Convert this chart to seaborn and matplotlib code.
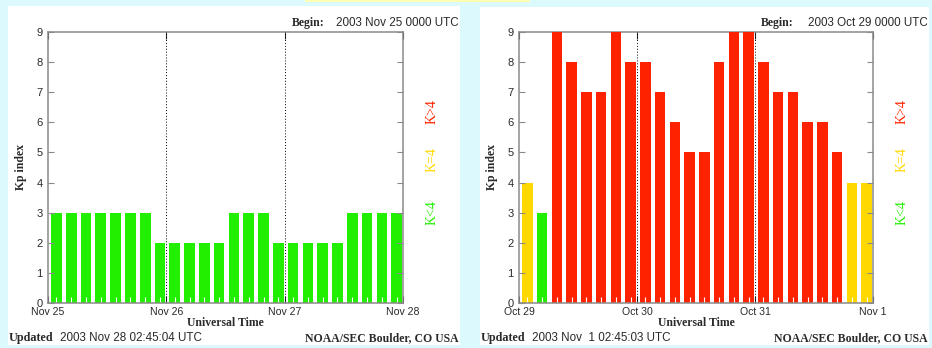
import matplotlib
matplotlib.use("Agg")
import matplotlib.pyplot as plt
import seaborn as sns
import pandas as pd
from matplotlib.patches import Rectangle

sns.set_theme(style="white")
plt.rcParams["font.family"] = ["Liberation Sans", "DejaVu Sans"]

# 3-hourly planetary K index, three days per panel
nov_kp = [3, 3, 3, 3, 3, 3, 3, 2,
          2, 2, 2, 2, 3, 3, 3, 2,
          2, 2, 2, 2, 3, 3, 3, 3]
nov_days = ["Nov 25", "Nov 26", "Nov 27", "Nov 28"]
nov_begin = "2003 Nov 25 0000 UTC"
nov_updated = "2003 Nov 28 02:45:04 UTC"

oct_kp = [4, 3, 9, 8, 7, 7, 9, 8,
          8, 7, 6, 5, 5, 8, 9, 9,
          8, 7, 7, 6, 6, 5, 4, 4]
oct_days = ["Oct 29", "Oct 30", "Oct 31", "Nov 1"]
oct_begin = "2003 Oct 29 0000 UTC"
oct_updated = "2003 Nov  1 02:45:03 UTC"

levels = ["K<4", "K=4", "K>4"]
level_colors = {"K<4": "#22ee00", "K=4": "#ffd800", "K>4": "#ff2200"}

W, H = 932, 348
BG = "#dcfafe"
SPINE = "#8a8a8a"
TXT = "#2a2a2a"
SERIF = ["Liberation Serif", "DejaVu Serif"]


def fx(x):
    return x / W


def fy(y):
    return 1 - y / H


def level_of(k):
    if k < 4:
        return "K<4"
    if k == 4:
        return "K=4"
    return "K>4"


fig = plt.figure(figsize=(W / 100, H / 100), dpi=100, facecolor=BG)

# thin highlight strip along the top edge
fig.patches.append(Rectangle((fx(305), fy(2)), fx(225), 2 / H,
                             transform=fig.transFigure, facecolor="#ffffb4",
                             edgecolor="none", zorder=-10))


def panel(x0, x1, top, ax_left, ax_right, kp, days, begin, updated):
    # white card behind each plot
    fig.patches.append(Rectangle((fx(x0), fy(345)), fx(x1 - x0), (345 - top) / H,
                                 transform=fig.transFigure, facecolor="white",
                                 edgecolor="none", zorder=-10))
    ax = fig.add_axes([fx(ax_left), fy(303), fx(ax_right - ax_left), (303 - 32) / H])
    ax.set_zorder(2)
    ax.set_facecolor("white")

    df = pd.DataFrame({
        "hour": [3 * i + 1.71 for i in range(len(kp))],
        "kp": kp,
        "level": [level_of(k) for k in kp],
    })
    sns.barplot(data=df, x="hour", y="kp", hue="level", hue_order=levels,
                palette=level_colors, dodge=False, native_scale=True,
                width=0.72, saturation=1, errorbar=None, legend=False,
                linewidth=0, ax=ax)

    ax.set_xlim(0, 72)
    ax.set_ylim(0, 9)
    ax.set_axisbelow(False)
    ax.set_xlabel("")
    ax.set_ylabel("")

    ax.set_xticks([0, 24, 48, 72])
    ax.set_xticklabels(days)
    ax.set_xticks(df["hour"], minor=True)
    ax.tick_params(axis="x", which="major", direction="in", top=True, bottom=True,
                   length=5, width=0.8, color=TXT, labelsize=7.6, labelcolor=TXT, pad=3)
    ax.tick_params(axis="x", which="minor", direction="in", top=False, bottom=True,
                   length=4, width=0.8, color="white")
    ax.set_yticks(range(10))
    ax.tick_params(axis="y", direction="in", left=True, right=True, length=4,
                   width=0.8, color=SPINE, labelsize=8, labelcolor=TXT, pad=4)

    for name, s in ax.spines.items():
        s.set_color(SPINE)
        s.set_linewidth(1.1)
        # full-height bars paint over the top frame line
        s.set_zorder(0.5 if name == "top" else 5)

    for d in (24, 48):
        ax.axvline(d, color="black", linestyle=(0, (1, 2)), linewidth=0.7, zorder=4)

    cx = (ax_left + ax_right) / 2
    fig.text(fx(ax_left - 27), fy(167), "Kp index", rotation=90, ha="center",
             va="center", family=SERIF, weight="bold", fontsize=8.5, color=TXT)
    fig.text(fx(cx), fy(323), "Universal Time", ha="center", va="center",
             family=SERIF, weight="bold", fontsize=8.5, color=TXT)

    # K-level key along the right side
    key_x = ax_right + 29
    for label, ycen in (("K>4", 112), ("K=4", 160), ("K<4", 213)):
        fig.text(fx(key_x), fy(ycen), label, rotation=90, ha="center", va="center",
                 family=SERIF, fontsize=10, color=level_colors[label])

    fig.text(fx(x1 - 168), fy(23), "Begin:", ha="left", va="center",
             family=SERIF, weight="bold", fontsize=8.5, color=TXT)
    fig.text(fx(x1 - 1), fy(23), begin, ha="right", va="center",
             fontsize=8.4, color=TXT)
    fig.text(fx(x0 + 0.5), fy(338), "Updated", ha="left", va="center",
             family=SERIF, weight="bold", fontsize=8.7, color=TXT)
    fig.text(fx(x0 + 52), fy(338), updated, ha="left", va="center",
             fontsize=8.4, color=TXT)
    fig.text(fx(x1 - 1), fy(338), "NOAA/SEC Boulder, CO USA", ha="right",
             va="center", family=SERIF, weight="bold", fontsize=8.5, color=TXT)


panel(8, 460, 6, 48, 403, nov_kp, nov_days, nov_begin, nov_updated)
panel(480, 929, 7, 519, 873, oct_kp, oct_days, oct_begin, oct_updated)

fig.savefig("out.png", dpi=100, facecolor=BG)
